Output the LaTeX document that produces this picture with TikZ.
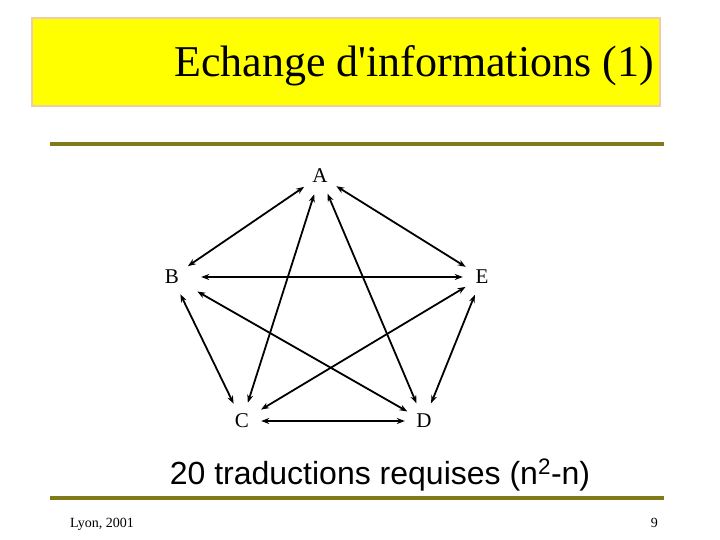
\documentclass[tikz,border=0pt]{standalone}
\usepackage{fontspec}
\setmainfont{Liberation Serif}
\newfontfamily\bodysans{Liberation Sans}
\usetikzlibrary{arrows.meta}
\definecolor{titleyellow}{RGB}{255,255,0}
\definecolor{titleborder}{RGB}{240,205,170}
\definecolor{rulecol}{RGB}{128,122,26}
\tikzset{
  vtx/.style={circle,inner sep=0pt,minimum size=38pt,font=\fontsize{21}{24}\selectfont},
  link/.style={line width=1.8pt,{Stealth[length=8pt,width=6pt]}-{Stealth[length=8pt,width=6pt]}},
  olive/.style={draw=rulecol,line width=3.5pt}
}
\begin{document}
\begin{tikzpicture}[x=1pt,y=-1pt]
\useasboundingbox (0,0) rectangle (720,540);
\fill[white] (0,0) rectangle (720,540);
\node[draw=titleborder,fill=titleyellow,line width=1.5pt,minimum width=628pt,minimum height=88pt,inner sep=0pt] (title) at (346,62) {};
\node[anchor=base,font=\fontsize{44}{48}\selectfont,inner sep=0pt] (ttext) at (414,77) {Echange d\textquotesingle informations (1)};
\draw[olive] (50,144) coordinate (r1a) -- (664,144) coordinate (r1b);
\node[vtx] (A) at (320,176) {A};
\node[vtx] (B) at (172,277) {B};
\node[vtx] (E) at (482,277) {E};
\node[vtx] (C) at (242,421) {C};
\node[vtx] (D) at (424,421) {D};
\draw[link] (A) -- (B);
\draw[link] (A) -- (E);
\draw[link,shorten <=10pt] (B) -- (E);
\draw[link] (A) -- (C);
\draw[link] (A) -- (D);
\draw[link] (B) -- (C);
\draw[link,shorten <=10pt] (B) -- (D);
\draw[link,shorten >=3pt] (E) -- (C);
\draw[link] (E) -- (D);
\draw[link] (C) -- (D);
\node[anchor=base,font=\bodysans\fontsize{32}{36}\selectfont,inner sep=0pt] (caption) at (380,484) {20 traductions requises (n\textsuperscript{2}-n)};
\draw[olive] (50,498) coordinate (r2a) -- (664,498) coordinate (r2b);
\node[anchor=base west,font=\fontsize{14}{16}\selectfont,inner sep=0pt] (foot) at (70,527) {Lyon, 2001};
\node[anchor=base east,font=\fontsize{14}{16}\selectfont,inner sep=0pt] (page) at (658,527) {9};
\end{tikzpicture}
\end{document}
